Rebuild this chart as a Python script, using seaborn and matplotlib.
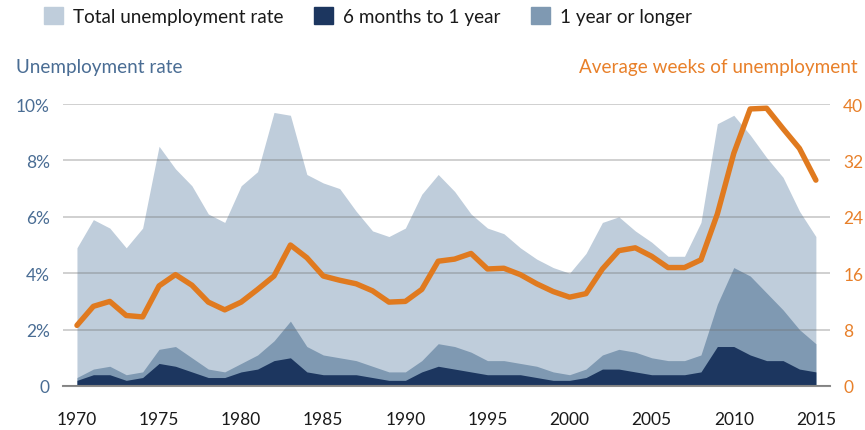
import pandas as pd
import matplotlib
matplotlib.use("Agg")
import matplotlib.pyplot as plt
from matplotlib.patches import Patch
import seaborn as sns

# annual values, 1970-2015
years = list(range(1970, 2016))
total_rate = [4.9, 5.9, 5.6, 4.9, 5.6, 8.5, 7.7, 7.1, 6.1, 5.8,
              7.1, 7.6, 9.7, 9.6, 7.5, 7.2, 7.0, 6.2, 5.5, 5.3,
              5.6, 6.8, 7.5, 6.9, 6.1, 5.6, 5.4, 4.9, 4.5, 4.2,
              4.0, 4.7, 5.8, 6.0, 5.5, 5.1, 4.6, 4.6, 5.8, 9.3,
              9.6, 8.9, 8.1, 7.4, 6.2, 5.3]
six_to_twelve = [0.2, 0.4, 0.4, 0.2, 0.3, 0.8, 0.7, 0.5, 0.3, 0.3,
                 0.5, 0.6, 0.9, 1.0, 0.5, 0.4, 0.4, 0.4, 0.3, 0.2,
                 0.2, 0.5, 0.7, 0.6, 0.5, 0.4, 0.4, 0.4, 0.3, 0.2,
                 0.2, 0.3, 0.6, 0.6, 0.5, 0.4, 0.4, 0.4, 0.5, 1.4,
                 1.4, 1.1, 0.9, 0.9, 0.6, 0.5]
year_plus = [0.1, 0.2, 0.3, 0.2, 0.2, 0.5, 0.7, 0.5, 0.3, 0.2,
             0.3, 0.5, 0.7, 1.3, 0.9, 0.7, 0.6, 0.5, 0.4, 0.3,
             0.3, 0.4, 0.8, 0.8, 0.7, 0.5, 0.5, 0.4, 0.4, 0.3,
             0.2, 0.3, 0.5, 0.7, 0.7, 0.6, 0.5, 0.5, 0.6, 1.5,
             2.8, 2.8, 2.4, 1.8, 1.4, 1.0]
avg_weeks = [8.6, 11.3, 12.0, 10.0, 9.8, 14.2, 15.8, 14.3, 11.9, 10.8,
             11.9, 13.7, 15.6, 20.0, 18.2, 15.6, 15.0, 14.5, 13.5, 11.9,
             12.0, 13.7, 17.7, 18.0, 18.8, 16.6, 16.7, 15.8, 14.5, 13.4,
             12.6, 13.1, 16.6, 19.2, 19.6, 18.4, 16.8, 16.8, 17.9, 24.4,
             33.0, 39.3, 39.4, 36.5, 33.7, 29.2]

rate_ticks = [0, 2, 4, 6, 8, 10]
rate_labels = ["0", "2%", "4%", "6%", "8%", "10%"]
week_ticks = [0, 8, 16, 24, 32, 40]
year_ticks = list(range(1970, 2016, 5))

LIGHT = "#bfcddb"
MID = "#7f99b2"
DARK = "#1c365f"
ORANGE = "#e07a1f"
BLUE_TXT = "#4a6d94"
ORANGE_TXT = "#e8802a"

sns.set_theme(style="white")
plt.rcParams["font.family"] = ["Lato", "DejaVu Sans"]

df = pd.DataFrame({
    "year": years,
    "total": total_rate,
    "six_to_twelve": six_to_twelve,
    "year_plus": year_plus,
    "weeks": avg_weeks,
})
df["long_top"] = df["six_to_twelve"] + df["year_plus"]

fig = plt.figure(figsize=(8.65, 4.31), dpi=100)
ax = fig.add_axes([63 / 865, 44 / 431, (830 - 63) / 865, 282 / 431])

ax.fill_between(df["year"], 0, df["total"], color=LIGHT, lw=0)
ax.fill_between(df["year"], 0, df["long_top"], color=MID, lw=0)
ax.fill_between(df["year"], 0, df["six_to_twelve"], color=DARK, lw=0)

ax.set_xlim(1969.15, 2015.86)
ax.set_ylim(0, 10)
ax.set_yticks(rate_ticks)
ax.set_yticklabels(rate_labels)
ax.set_xticks(year_ticks)
ax.grid(axis="y", color="#6f6f6f", alpha=0.35, lw=1.3)
ax.grid(axis="x", visible=False)
ax.set_axisbelow(False)
for side in ["top", "left", "right"]:
    ax.spines[side].set_visible(False)
ax.spines["bottom"].set_color("#8c8c8c")
ax.spines["bottom"].set_linewidth(1.5)
ax.tick_params(axis="y", length=0, pad=9.5, labelsize=12.5, labelcolor=BLUE_TXT)
ax.tick_params(axis="x", length=0, pad=18, labelsize=12.5, labelcolor="#1a1a1a")
ax.set_xlabel("")
ax.set_ylabel("")

ax2 = ax.twinx()
sns.lineplot(data=df, x="year", y="weeks", ax=ax2, color=ORANGE, lw=3.9)
ax2.set_ylim(0, 40)
ax2.set_yticks(week_ticks)
ax2.grid(False)
for side in ["top", "left", "right", "bottom"]:
    ax2.spines[side].set_visible(False)
ax2.tick_params(axis="y", length=0, pad=9.5, labelsize=12.5, labelcolor=ORANGE_TXT)
ax2.set_ylabel("")

fig.text(16 / 865, 1 - 68 / 431, "Unemployment rate", ha="left", va="center",
         fontsize=13.6, color=BLUE_TXT)
fig.text(858 / 865, 1 - 68 / 431, "Average weeks of unemployment", ha="right",
         va="center", fontsize=13.6, color=ORANGE_TXT)

handles = [Patch(color=LIGHT), Patch(color=DARK), Patch(color=MID)]
labels = ["Total unemployment rate", "6 months to 1 year", "1 year or longer"]
fig.legend(handles, labels, loc="upper left", bbox_to_anchor=(44 / 865, 1 - 8 / 431),
           ncol=3, frameon=False, fontsize=13.6, handlelength=1.0, handleheight=1.0,
           handletextpad=0.55, columnspacing=1.6, borderpad=0, borderaxespad=0,
           labelcolor="#1a1a1a")

fig.savefig("out.png", dpi=100)
plt.close(fig)
